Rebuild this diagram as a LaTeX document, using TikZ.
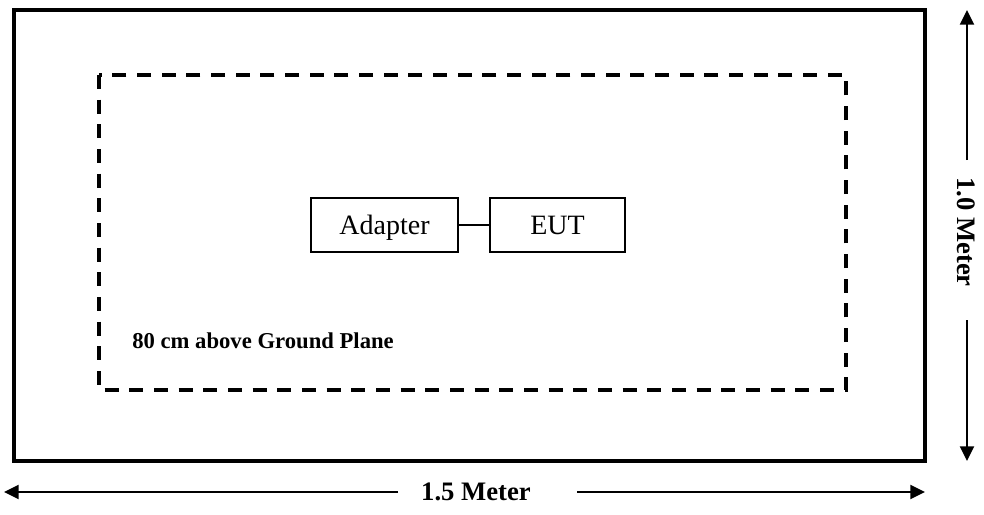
\documentclass[tikz,border=0pt]{standalone}
\usepackage{fontspec}
\setmainfont{Liberation Serif}
\usetikzlibrary{arrows.meta}
\begin{document}
\begin{tikzpicture}[x=0.75pt,y=-0.75pt,
  outerrect/.style={draw,line width=2.7pt},
  dashrect/.style={draw,line width=2.3pt,dash pattern=on 10.5pt off 8pt},
  unitbox/.style={draw,line width=1.5pt,minimum width=110pt,minimum height=40.5pt,inner sep=0pt,text height=14pt,text depth=0pt,font=\fontsize{21}{24}\selectfont},
  dimarrow/.style={line width=1.5pt,-{Triangle[length=11pt,width=10.5pt]}},
  dimlabel/.style={font=\fontsize{20}{24}\selectfont\bfseries,inner sep=0pt},
  wire/.style={line width=1.5pt}]
\useasboundingbox (0,0) rectangle (984,514);
% outer table
\draw[outerrect] (14,10) rectangle (925,461);
% dashed region
\draw[dashrect] (99,75) rectangle (846,390);
% units
\node[unitbox] (adapter) at (384.5,225) {Adapter};
\node[unitbox,minimum width=101pt] (eut) at (557.5,225) {EUT};
\draw[wire] (adapter.east) -- (eut.west);
% label
\node[anchor=west,inner sep=0pt,font=\fontsize{17}{20}\selectfont\bfseries] (gp) at (132,341) {80 cm above Ground Plane};
% horizontal dimension
\node[dimlabel] (hlab) at (476,492) {1.5 Meter};
\coordinate (hl) at (4,492);
\coordinate (hr) at (925,492);
\coordinate (hgl) at (398,492);
\coordinate (hgr) at (577,492);
\draw[dimarrow] (hgl) -- (hl);
\draw[dimarrow] (hgr) -- (hr);
% vertical dimension
\node[dimlabel,rotate=-90] (vlab) at (966,232) {1.0 Meter};
\coordinate (vt) at (967,10);
\coordinate (vb) at (967,461);
\coordinate (vgt) at (967,160);
\coordinate (vgb) at (967,320);
\draw[dimarrow] (vgt) -- (vt);
\draw[dimarrow] (vgb) -- (vb);
\end{tikzpicture}
\end{document}
